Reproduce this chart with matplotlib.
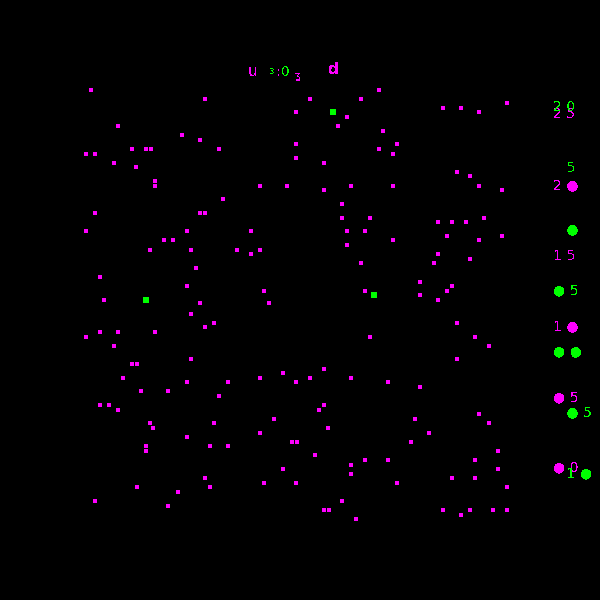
import matplotlib
matplotlib.use("Agg")
import matplotlib.pyplot as plt

plt.rcParams['text.antialiased'] = False
plt.rcParams['font.family'] = ['DejaVu Sans']

MAGENTA = '#ff00ff'
GREEN = '#00ff00'

# magenta series
mag_x = [2.2, 25.0, 7.6, 20.4, 24.0, 1.2, 3.0, 10.4, 13.2, 14.2, 27.8, 6.8, 11.2, 15.0, 15.0,
         28.6, 3.0, 24.0, 25.0, 1.2, 21.4, 16.8, 18.6, 14.0, 22.2, 23.2, 4.0, 21.4, 4.8, 24.0,
         46.0, 56.2, 43.2, 53.4, 51.6, 43.2, 43.2, 48.8, 36.0, 41.4, 48.8, 54.2, 52.4, 52.4, 58.0,
         34.2, 53.4, 57.0, 53.4, 31.4, 36.0, 34.2, 56.2, 36.8, 57.0, 37.8,
         59.8, 72.6, 76.2, 79.8, 85.4, 60.6, 63.4, 59.8, 62.6, 75.4, 78.0, 79.8, 84.4, 62.6, 71.6,
         74.4, 77.2, 80.8, 73.4, 84.4, 62.6, 79.8, 71.6, 70.8, 78.0, 68.0, 74.4, 73.4, 68.0, 71.6,
         22.2, 26.8, 25.0, 1.2, 4.0, 7.6, 15.0, 6.8, 10.4, 11.4, 22.2, 8.6, 21.4, 29.6, 12.2,
         17.6, 27.8, 4.0, 5.8, 7.6, 14.0, 14.6, 26.8, 21.4, 13.2, 13.2, 26.0, 29.6, 25.0, 26.0,
         11.4, 19.6, 3.0, 17.6,
         58.0, 48.8, 40.6, 36.0, 43.2, 46.0, 54.2, 48.8, 47.8, 38.8, 49.6, 36.0, 42.4, 43.4, 47.0,
         40.6, 54.2, 54.2, 57.0, 36.8, 43.2, 52.4, 48.8, 49.8, 55.2,
         75.4, 79.0, 81.8, 75.4, 61.6, 68.0, 67.0, 69.8, 66.2, 79.8, 81.8, 83.6, 61.6, 79.0, 83.6,
         63.4, 74.4, 79.0, 85.4, 72.6, 76.2, 78.0, 82.6, 85.4]
mag_y = [26.63, 25.99, 24.08, 23.44, 23.09, 22.10, 22.10, 22.45, 22.45, 22.45, 22.45, 21.46, 21.18, 20.18, 19.83,
         18.91, 17.92, 17.92, 17.92, 16.64, 16.64, 16.01, 16.01, 15.30, 15.30, 14.02, 13.39, 12.75, 11.76, 11.54,
         25.99, 25.99, 25.07, 24.72, 24.08, 22.80, 21.81, 21.46, 19.83, 19.83, 19.55, 19.83, 18.56, 17.56, 17.56,
         16.64, 16.64, 16.64, 15.65, 15.30, 15.30, 15.01, 14.38, 12.39, 12.39, 11.54,
         26.63, 25.35, 25.35, 25.07, 25.71, 23.73, 22.80, 22.45, 22.10, 20.82, 20.54, 19.83, 19.55, 19.83, 17.28,
         17.28, 17.28, 17.56, 16.29, 16.29, 16.01, 16.01, 15.01, 14.38, 14.66, 13.03, 12.75, 12.39, 12.11, 11.76,
         10.76, 10.13, 9.84, 9.14, 9.49, 9.49, 9.49, 8.50, 7.22, 7.22, 7.58, 6.23, 5.95, 5.95, 5.31,
         5.31, 4.96, 4.32, 4.32, 3.97, 3.05, 2.69, 3.05, 2.05, 1.42, 1.06, 1.42, 1.42, -0.85, -1.49,
         -1.49, -1.84, -2.48, -2.83,
         9.14, 6.87, 6.59, 6.23, 5.95, 6.23, 6.23, 4.32, 3.97, 3.33, 2.69, 2.34, 1.70, 1.70, 0.78,
         -0.21, 0.07, -0.57, 0.42, -1.20, -1.20, -2.48, -3.12, -3.12, -3.75,
         10.13, 9.14, 8.50, 7.58, 5.95, 5.59, 3.33, 2.34, 1.70, 3.68, 3.05, 1.06, 0.42, 0.42, -0.21,
         -1.20, -0.85, -0.85, -1.49, -3.12, -3.47, -3.12, -3.12, -3.12]

# green series (own right-hand scale)
grn_x = [50.6, 13.2, 58.8]
grn_y = [19.43, 4.06, 4.47]

DOT = '\u25cf'
SP = '\u2004'
FIG = '\u2007'
mag_ticks = [25, 20, 15, 10, 5, 0]
mag_labels = ['2' + SP + '5', '2' + SP + DOT, '1' + SP + '5', '1' + SP + DOT, DOT + SP + '5', DOT + SP + '0']
grn_ticks = [20, 15, 10, 5, 0, -5, -10]
grn_labels = ['2' + SP + '0', FIG + SP + '5', FIG + SP + DOT, DOT + SP + '5', DOT + SP + DOT,
              FIG + SP + DOT + SP + '5', FIG + SP + '1' + SP + DOT]

fig = plt.figure(figsize=(6, 6), dpi=100, facecolor='black')
ax = fig.add_axes([0.1333, 0.1, 0.775, 0.8], facecolor='black')
ax2 = ax.twinx()

ax.set_xlim(0, 93)
ax.set_ylim(-5.24, 28.75)
ax.scatter(mag_x, mag_y, marker='s', s=12, color=MAGENTA, linewidths=0, antialiased=False)
ax.set_xticks([])
ax.yaxis.tick_right()
ax.set_yticks(mag_ticks)
ax.set_yticklabels(mag_labels, color=MAGENTA, fontsize=10)
ax.tick_params(axis='y', length=0, pad=6)
for s in ax.spines.values():
    s.set_visible(False)

ax2.set_ylim(-15.56, 23.68)
ax2.scatter(grn_x, grn_y, marker='s', s=13, color=GREEN, linewidths=0, antialiased=False)
ax2.set_yticks(grn_ticks)
ax2.set_yticklabels(grn_labels, color=GREEN, fontsize=10)
ax2.tick_params(axis='y', length=0, pad=6)
for s in ax2.spines.values():
    s.set_visible(False)

# garbled title
fig.text(253 / 600, 1 - 71 / 600, 'u', color=MAGENTA, fontsize=11, ha='center', va='center')
fig.text(272 / 600, 1 - 71 / 600, '\u025c', color=GREEN, fontsize=7, ha='center', va='center')
fig.text(279 / 600, 1 - 72 / 600, ':', color=MAGENTA, fontsize=10, ha='center', va='center')
fig.text(286 / 600, 1 - 72 / 600, '0', color=GREEN, fontsize=10, ha='center', va='center')
fig.text(297 / 600, 1 - 76 / 600, '\u0293', color=MAGENTA, fontsize=7, ha='center', va='center')
fig.text(334 / 600, 1 - 70 / 600, 'd', color=MAGENTA, fontsize=11, fontweight='bold', ha='center', va='center')

fig.savefig('out.png', dpi=100, facecolor='black')
